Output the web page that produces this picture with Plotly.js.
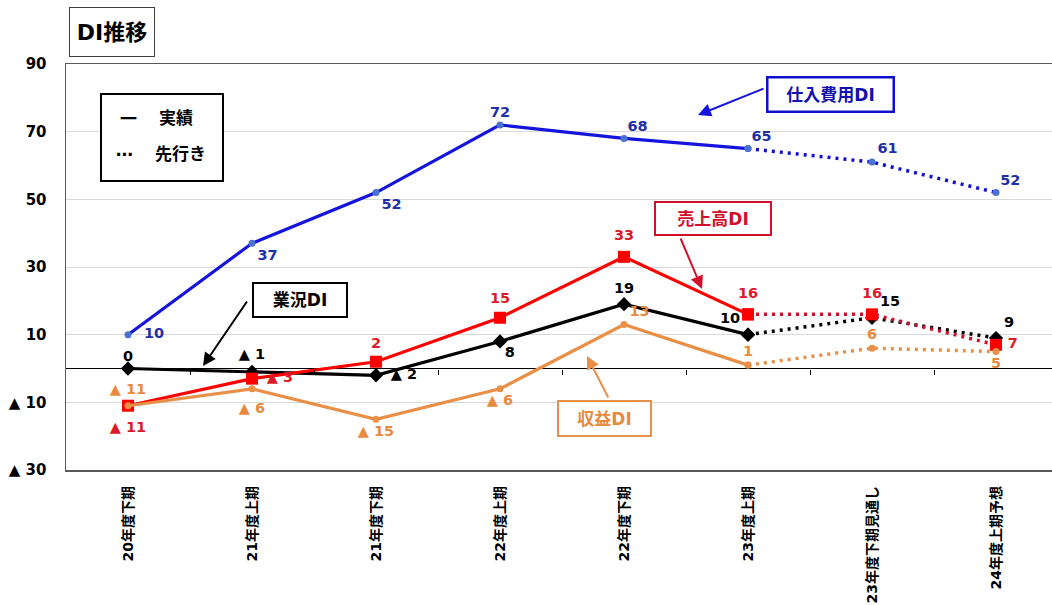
<!DOCTYPE html>
<html><head><meta charset="utf-8">
<script src="https://cdn.plot.ly/plotly-3.0.1.min.js"></script>
<style>html,body{margin:0;padding:0;background:#fff;overflow:hidden;}#chart{width:1060px;height:605px;}</style>
</head><body><div id="chart"></div>
<script>
// ---- data ----
const categories = ['20年度下期','21年度上期','21年度下期','22年度上期','22年度下期','23年度上期','23年度下期見通し','24年度上期予想'];
const shiireDI = [10, 37, 52, 72, 68, 65, 61, 52];   // 仕入費用DI
const gyokyoDI = [0, -1, -2, 8, 19, 10, 15, 9];      // 業況DI
const uriageDI = [-11, -3, 2, 15, 33, 16, 16, 7];    // 売上高DI
const shuekiDI = [-11, -6, -15, -6, 13, 1, 6, 5];    // 収益DI
const actualCount = 6; // 実績 points; the rest are 先行き
const yTickVals = [-30, -10, 10, 30, 50, 70, 90];
const yTickText = ['▲ 30', '▲ 10', '10', '30', '50', '70', '90'];

// ---- style (label placement: position + gap size around each point) ----
const FONT = 'DejaVu Sans, "Noto Sans CJK JP", sans-serif';
const styles = [
  {vals: shiireDI, line: '#1414dc', dot: '#1010d0', mk: '#4a72d0', sym: 'circle', size: 7, text: '#1f2fa6',
   pos: ['middle right','bottom right','bottom right','top center','top right','top right','top right','top right'],
   gap: [24, 7, 7, 5, 4, 4, 7, 5]},
  {vals: gyokyoDI, line: '#000000', dot: '#000000', mk: '#000000', sym: 'diamond', size: 11, text: '#000000',
   pos: ['top center','top center','middle right','bottom right','top center','top left','top right','top right'],
   gap: [4, 13, 22, 6, 11, 11, 11, 11]},
  {vals: uriageDI, line: '#ff0000', dot: '#d0102a', mk: '#ff0000', sym: 'square', size: 12, text: '#dc1a2a',
   pos: ['bottom center','middle right','top center','top center','top center','top center','top center','middle right'],
   gap: [23, 22, 14, 17, 20, 19, 19, 17]},
  {vals: shuekiDI, line: '#ea8f47', dot: '#ea8f47', mk: '#ea8f47', sym: 'circle', size: 7, text: '#e88a3e',
   pos: ['top center','bottom center','bottom center','bottom center','top right','top center','top center','bottom center'],
   gap: [11, 19, 7, 7, 7, 7, 7, 7]}
];

function lbl(v) { return v < 0 ? '▲ ' + (-v) : String(v); }

const traces = [];
styles.forEach(s => {
  const mk = {color: s.mk, size: s.size, symbol: s.sym, line: {width: 0}};
  traces.push({type: 'scatter', x: categories.slice(0, actualCount), y: s.vals.slice(0, actualCount),
    mode: 'lines+markers', line: {color: s.line, width: 3.2}, marker: mk, hoverinfo: 'skip', showlegend: false, cliponaxis: false});
  traces.push({type: 'scatter', x: categories.slice(actualCount - 1), y: s.vals.slice(actualCount - 1),
    mode: 'lines+markers', line: {color: s.dot, width: 3.5, dash: '3px,5px'}, marker: mk, hoverinfo: 'skip', showlegend: false, cliponaxis: false});
});
styles.forEach(s => {
  traces.push({type: 'scatter', x: categories, y: s.vals, mode: 'markers+text', text: s.vals.map(lbl),
    textposition: s.pos, textfont: {family: FONT, size: 14.5, color: s.text, weight: 'bold'},
    marker: {size: s.gap, opacity: 0}, hoverinfo: 'skip', showlegend: false, cliponaxis: false});
});
// dummy trace for the boundary-tick axis on the zero line
traces.push({type: 'scatter', x: [], y: [], xaxis: 'x2', yaxis: 'y', hoverinfo: 'skip', showlegend: false});

const L = 66, T = 64, W = 992, H = 406;
const px = x => (x - L) / W, py = y => (T + H - y) / H;

function box(text, cx, cy, w, h, color, size, bw, textColor) {
  return {xref: 'paper', yref: 'paper', x: px(cx), y: py(cy), xanchor: 'center', yanchor: 'middle',
    text: text, showarrow: false, width: w, height: h, bordercolor: color, borderwidth: bw, borderpad: 0,
    bgcolor: '#ffffff', font: {family: FONT, size: size, color: textColor || color, weight: 'bold'}};
}
function arrow(tail, tip, color) {
  return {xref: 'paper', yref: 'paper', x: px(tip[0]), y: py(tip[1]), axref: 'pixel', ayref: 'pixel',
    ax: tail[0] - tip[0], ay: tail[1] - tip[1], text: '', showarrow: true, arrowhead: 2,
    arrowsize: 1.3, arrowwidth: 2, arrowcolor: color};
}
function txt(text, x, y, anchor, size, family) {
  return {xref: 'paper', yref: 'paper', x: px(x), y: py(y), xanchor: anchor, yanchor: 'middle',
    text: text, showarrow: false, font: {family: family || FONT, size: size, color: '#000', weight: 'bold'}};
}

const boundaries = categories.slice(1).map((c, i) => i + 0.5);

const layout = {
  width: 1060, height: 605, autosize: false,
  margin: {l: L, r: 1060 - L - W, t: T, b: 605 - T - H},
  paper_bgcolor: '#ffffff', plot_bgcolor: '#ffffff',
  hovermode: false, showlegend: false,
  font: {family: FONT, color: '#000'},
  xaxis: {type: 'category', categoryorder: 'array', categoryarray: categories, range: [-0.5, categories.length - 0.5],
    tickangle: -90, tickfont: {family: FONT, size: 14, color: '#000', weight: 'bold'},
    showline: true, linecolor: '#595959', linewidth: 1.5, mirror: true, showgrid: false, zeroline: false,
    ticks: '', ticklabelstandoff: 9, fixedrange: true},
  xaxis2: {overlaying: 'x', anchor: 'free', position: 0.25, type: 'linear', range: [-0.5, categories.length - 0.5],
    tickmode: 'array', tickvals: boundaries, ticks: 'outside', ticklen: 5, tickwidth: 1, tickcolor: '#000',
    showticklabels: false, showline: false, showgrid: false, zeroline: false, side: 'bottom', fixedrange: true},
  yaxis: {range: [-30, 90], tickmode: 'array', tickvals: yTickVals, ticktext: yTickText,
    tickfont: {family: FONT, size: 15, color: '#000', weight: 'bold'}, ticks: '', ticklabelstandoff: 15,
    showline: true, linecolor: '#595959', linewidth: 1.5, mirror: true,
    showgrid: true, gridcolor: '#d9d9d9', gridwidth: 1,
    zeroline: true, zerolinecolor: '#000000', zerolinewidth: 1.5, fixedrange: true},
  shapes: [
    {type: 'rect', xref: 'paper', yref: 'paper', x0: px(101), x1: px(223), y0: py(181), y1: py(94),
     line: {color: '#000', width: 2}, fillcolor: '#ffffff', layer: 'above'}
  ],
  annotations: [
    box('DI推移', 112, 32, 84, 48, '#404040', 22, 1, '#000'),
    txt('一', 128, 118, 'center', 17, '"Noto Sans CJK JP", sans-serif'),
    txt('実績', 157, 118, 'left', 17),
    txt('⋯', 124, 154, 'center', 17),
    txt('先行き', 153, 154, 'left', 17),
    arrow([765, 88], [698, 115], '#1414dc'),
    arrow([248, 300], [203, 366], '#000000'),
    arrow([680, 237], [702, 289], '#d0102a'),
    arrow([609, 399], [587, 356], '#ea8f47'),
    box('仕入費用DI', 830, 95, 124, 32, '#1010cc', 17, 2.5, '#1010b0'),
    box('業況DI', 300, 300, 92, 32, '#000000', 17, 2, '#000'),
    box('売上高DI', 713, 218, 114, 31, '#d0102a', 17, 2, '#d0102a'),
    box('収益DI', 604, 418, 91, 33, '#ea8f47', 17, 2, '#e88a3e')
  ]
};

Plotly.newPlot('chart', traces, layout, {displayModeBar: false, staticPlot: true});
</script>
</body></html>
